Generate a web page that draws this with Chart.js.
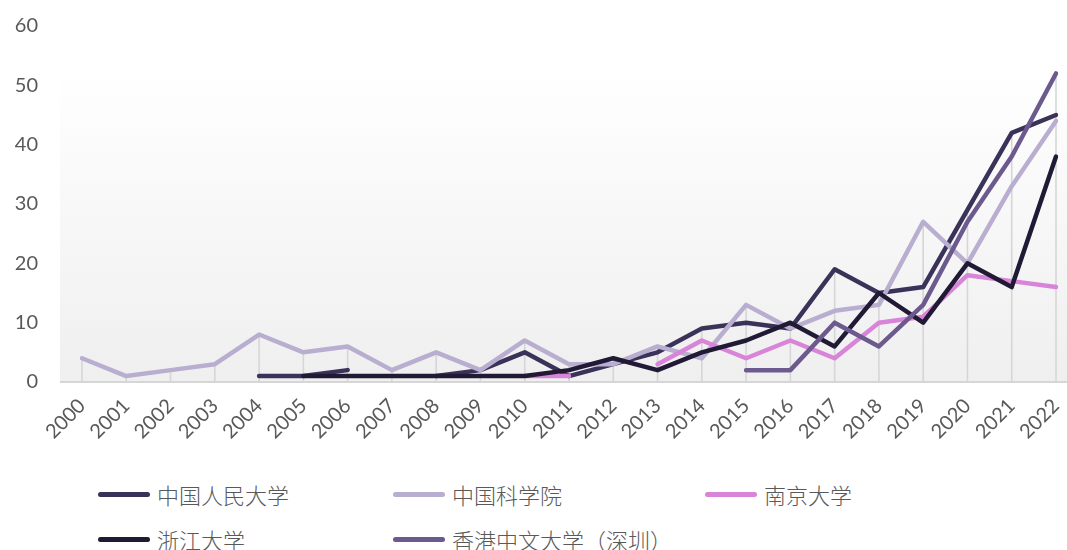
<!DOCTYPE html>
<html>
<head>
<meta charset="utf-8">
<script src="https://cdn.jsdelivr.net/npm/chart.js@4.4.1/dist/chart.umd.min.js"></script>
<style>
  html, body { margin: 0; padding: 0; background: #ffffff; }
  #wrap { position: relative; width: 1067px; height: 550px; }
  #chartBox { position: absolute; left: 0; top: 0; width: 1067px; height: 462px; }
  #legend {
    position: absolute; left: 98px; top: 481px;
    display: grid; grid-template-columns: 295px 312px 300px; row-gap: 19px;
    font-family: "Noto Sans CJK SC", sans-serif; font-size: 22px; font-weight: 300; color: #595959;
  }
  .item { display: flex; align-items: center; height: 26px; white-space: nowrap; }
  .swatch { width: 52px; height: 5px; border-radius: 3px; margin-right: 7px; }
</style>
</head>
<body>
<div id="wrap">
  <div id="chartBox"><canvas id="paperChart"></canvas></div>
  <div id="legend"></div>
</div>
<script>
const years = ['2000', '2001', '2002', '2003', '2004', '2005', '2006', '2007', '2008', '2009', '2010',
  '2011', '2012', '2013', '2014', '2015', '2016', '2017', '2018', '2019', '2020', '2021', '2022'];

const renmin = [null, null, null, null, 1, 1, 2, null, 1, 2, 5, 1, 3, 5, 9, 10, 9, 19, 15, 16, 29, 42, 45];
const cas = [4, 1, 2, 3, 8, 5, 6, 2, 5, 2, 7, 3, 3, 6, 4, 13, 9, 12, 13, 27, 20, 33, 44];
const nanjing = [null, null, null, null, null, null, null, null, null, null, 1, 1, null, 3, 7, 4, 7, 4, 10, 11, 18, 17, 16];
const zhejiang = [null, null, null, null, null, 1, 1, 1, 1, 1, 1, 2, 4, 2, 5, 7, 10, 6, 15, 10, 20, 16, 38];
const cuhksz = [null, null, null, null, null, null, null, null, null, null, null, null, null, null, null, 2, 2, 10, 6, 13, 27, 38, 52];

const seriesNames = ['中国人民大学', '中国科学院', '南京大学', '浙江大学', '香港中文大学（深圳）'];
const seriesColors = ['#3b3259', '#b9aed0', '#d884d8', '#211a35', '#6c5a8f'];

const yTicks = { min: 0, max: 60, step: 10 };

Chart.defaults.font.family = 'Lato, "Open Sans", sans-serif';
Chart.defaults.font.size = 20;
Chart.defaults.color = '#595959';

// gradient panel behind the lines, like the office chart
const plotBackground = {
  id: 'plotBackground',
  beforeDraw(chart) {
    const { ctx, chartArea, scales } = chart;
    const left = chartArea.left - 22;
    const top = chartArea.top + 42;
    const bottom = scales.y.getPixelForValue(0);
    const grad = ctx.createLinearGradient(0, top, 0, bottom);
    grad.addColorStop(0, '#ffffff');
    grad.addColorStop(1, '#efefef');
    ctx.save();
    ctx.fillStyle = grad;
    ctx.fillRect(left, top, chart.width - left, bottom - top);
    ctx.restore();
  },
};

// drop lines from the highest point of each year down to the axis
const dropLines = {
  id: 'dropLines',
  beforeDatasetsDraw(chart) {
    const { ctx, chartArea, scales } = chart;
    const base = scales.y.getPixelForValue(0);
    ctx.save();
    ctx.strokeStyle = '#d6d6d6';
    ctx.lineWidth = 1.6;
    years.forEach((year, i) => {
      const vals = chart.data.datasets.map((ds) => ds.data[i]).filter((v) => v !== null);
      if (!vals.length) return;
      const x = scales.x.getPixelForValue(i);
      ctx.beginPath();
      ctx.moveTo(x, scales.y.getPixelForValue(Math.max(...vals)));
      ctx.lineTo(x, base);
      ctx.stroke();
    });
    ctx.lineWidth = 2;
    ctx.beginPath();
    ctx.moveTo(chartArea.left - 22, base);
    ctx.lineTo(chart.width, base);
    ctx.stroke();
    ctx.restore();
  },
};

function makeDataset(idx, values) {
  return {
    label: seriesNames[idx],
    data: values,
    borderColor: seriesColors[idx],
    backgroundColor: seriesColors[idx],
    borderWidth: 4.5,
    borderCapStyle: 'round',
    borderJoinStyle: 'round',
    pointRadius: 0,
    pointHoverRadius: 0,
    tension: 0,
    spanGaps: false,
    order: 4 - idx, // later series drawn on top
  };
}

function buildLegend(chart) {
  const box = document.getElementById('legend');
  chart.data.datasets.forEach((ds) => {
    const item = document.createElement('div');
    item.className = 'item';
    const sw = document.createElement('span');
    sw.className = 'swatch';
    sw.style.background = ds.borderColor;
    const txt = document.createElement('span');
    txt.textContent = ds.label;
    item.appendChild(sw);
    item.appendChild(txt);
    box.appendChild(item);
  });
}

const ctx = document.getElementById('paperChart').getContext('2d');
const chart = new Chart(ctx, {
  type: 'line',
  data: {
    labels: years,
    datasets: [
      makeDataset(0, renmin),
      makeDataset(1, cas),
      makeDataset(2, nanjing),
      makeDataset(3, zhejiang),
      makeDataset(4, cuhksz),
    ],
  },
  options: {
    responsive: true,
    maintainAspectRatio: false,
    animation: false,
    layout: { padding: { top: 26, right: 11, left: 0, bottom: 0 } },
    plugins: {
      legend: { display: false },
      tooltip: { enabled: false },
    },
    scales: {
      x: {
        offset: false,
        grid: { display: false },
        border: { display: false },
        ticks: { autoSkip: false, minRotation: 45, maxRotation: 45, padding: 4 },
        afterFit(scale) {
          scale.height = 80;
          scale.paddingLeft = 0;
          scale.paddingRight = 0;
        },
      },
      y: {
        min: yTicks.min,
        max: yTicks.max,
        grid: { display: false, drawTicks: false },
        border: { display: false },
        ticks: { stepSize: yTicks.step, padding: 44 },
        afterFit(scale) {
          scale.width = 82;
          scale.paddingTop = 0;
          scale.paddingBottom = 0;
        },
      },
    },
  },
  plugins: [plotBackground, dropLines],
});

buildLegend(chart);
</script>
</body>
</html>
